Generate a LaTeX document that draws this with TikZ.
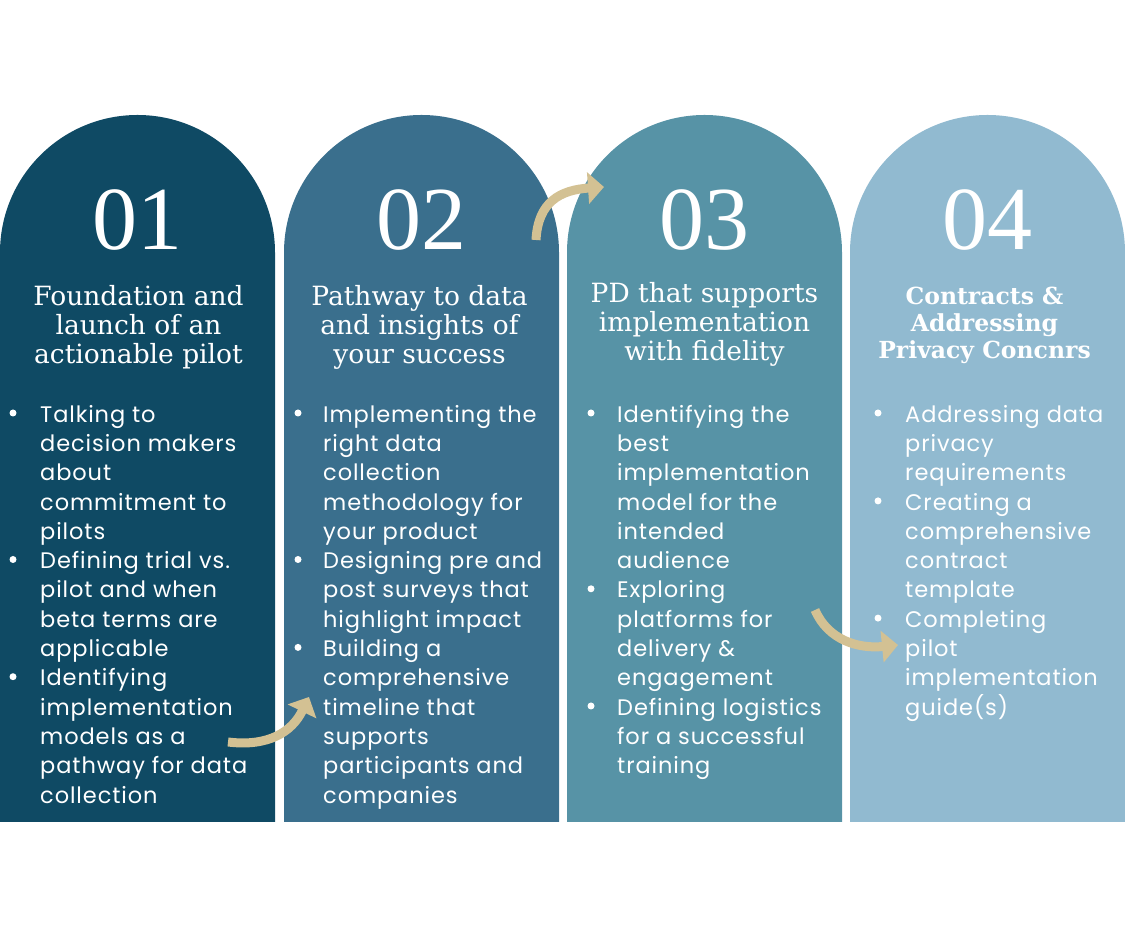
\documentclass[tikz,border=0pt]{standalone}
\usepackage{fontspec}
\usetikzlibrary{arrows.meta}
\newfontfamily\popfont[LetterSpace=4]{Poppins}
\newfontfamily\titfont{DejaVu Serif}
\newfontfamily\numfont{Liberation Serif}
\definecolor{cA}{HTML}{0F4A64}
\definecolor{cB}{HTML}{3A6F8D}
\definecolor{cC}{HTML}{5793A6}
\definecolor{cD}{HTML}{91BAD0}
\definecolor{arr}{HTML}{D3C193}
\newcommand{\topstrut}{\rule{0pt}{20pt}}
\tikzset{
  arch/.style={fill=#1},
  num/.style={text=white,font=\numfont\fontsize{90}{90}\selectfont,inner sep=0},
  ttl/.style={text=white,font=\titfont\fontsize{26.5}{29}\selectfont,align=center,inner sep=0},
  body/.style={text=white,font=\popfont\fontsize{22.5}{29.3}\selectfont,align=left,inner sep=0,anchor=north west},
  dot/.style={circle,fill=white,inner sep=0,minimum size=7pt},
  curarrow/.style={draw=arr,line width=9pt,-{Triangle[length=16pt,width=31pt]}}
}
\begin{document}
\begin{tikzpicture}[x=1pt,y=1pt]
\useasboundingbox (0,0) rectangle (1125,937);
% columns
\foreach \x/\c in {0/cA,284/cB,567/cC,850/cD}{
  \fill[arch=\c] (\x,115) -- (\x,684.5) arc[start angle=180,end angle=0,radius=137.5] -- (\x+275,115) -- cycle;
}
% numbers
\node[num] (n1) at (137.5,717) {01};
\node[num] (n2) at (421.5,717) {02};
\node[num] (n3) at (704.5,717) {03};
\node[num] (n4) at (987.5,717) {04};
% titles
\node[ttl] (t1) at (138.5,610) {Foundation and\\launch of an\\actionable pilot};
\node[ttl] (t2) at (419.5,610) {Pathway to data\\and insights of\\your success};
\node[ttl] (t3) at (704.5,613) {PD that supports\\implementation\\with fidelity};
\node[ttl,font=\titfont\bfseries\fontsize{23.5}{27}\selectfont] (t4) at (984.5,612) {Contracts \&\\Addressing\\Privacy Concnrs};
% column 1
\node[dot] (d1a) at (13,524) {};
\node[body] (b1a) at (40,535) {\topstrut Talking to\\decision makers\\about\\commitment to\\pilots};
\node[dot] (d1b) at (13,377.5) {};
\node[body] (b1b) at (40,388.5) {\topstrut Defining trial vs.\\pilot and when\\beta terms are\\applicable};
\node[dot] (d1c) at (13,260.3) {};
\node[body] (b1c) at (40,271.3) {\topstrut Identifying\\implementation\\models as a\\pathway for data\\collection};
% column 2
\node[dot] (d2a) at (298,524) {};
\node[body] (b2a) at (323,535) {\topstrut Implementing the\\right data\\collection\\methodology for\\your product};
\node[dot] (d2b) at (298,377.5) {};
\node[body] (b2b) at (323,388.5) {\topstrut Designing pre and\\post surveys that\\highlight impact};
\node[dot] (d2c) at (298,289.6) {};
\node[body] (b2c) at (323,300.6) {\topstrut Building a\\comprehensive\\timeline that\\supports\\participants and\\companies};
% column 3
\node[dot] (d3a) at (591,524) {};
\node[body] (b3a) at (617,535) {\topstrut Identifying the\\best\\implementation\\model for the\\intended\\audience};
\node[dot] (d3b) at (591,348.2) {};
\node[body] (b3b) at (617,359.2) {\topstrut Exploring\\platforms for\\delivery \&\\engagement};
\node[dot] (d3c) at (591,231) {};
\node[body] (b3c) at (617,242) {\topstrut Defining logistics\\for a successful\\training};
% column 4
\node[dot] (d4a) at (878,524) {};
\node[body] (b4a) at (905,535) {\topstrut Addressing data\\privacy\\requirements};
\node[dot] (d4b) at (878,436.1) {};
\node[body] (b4b) at (905,447.1) {\topstrut Creating a\\comprehensive\\contract\\template};
\node[dot] (d4c) at (878,318.9) {};
\node[body] (b4c) at (905,329.9) {\topstrut Completing\\pilot\\implementation\\guide(s)};
% arrows
\coordinate (a1s) at (536,697);
\coordinate (a1e) at (604,750);
\draw[curarrow] (a1s) .. controls (538,735) and (560,747) .. (a1e);
\coordinate (a2s) at (228,195);
\coordinate (a2e) at (309,240);
\draw[curarrow] (a2s) .. controls (268,190) and (292,205) .. (a2e);
\coordinate (a3s) at (815,327);
\coordinate (a3e) at (898,292);
\draw[curarrow] (a3s) .. controls (828,297) and (858,288) .. (a3e);
\end{tikzpicture}
\end{document}
